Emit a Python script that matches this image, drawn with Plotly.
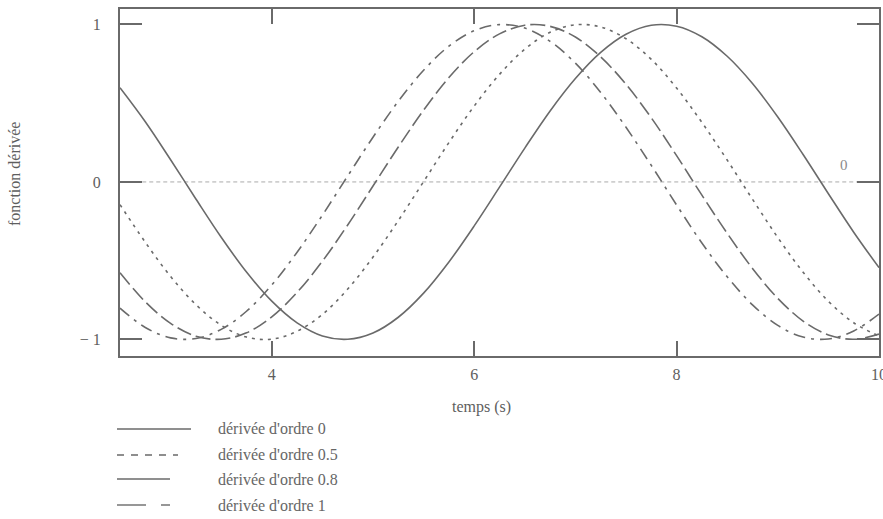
import plotly.graph_objects as go

t = [2.5, 2.75, 3.0, 3.25, 3.5, 3.75, 4.0, 4.25, 4.5, 4.75, 5.0, 5.25, 5.5, 5.75, 6.0, 6.25,
     6.5, 6.75, 7.0, 7.25, 7.5, 7.75, 8.0, 8.25, 8.5, 8.75, 9.0, 9.25, 9.5, 9.75, 10.0]

ordre_0 = [0.598, 0.382, 0.141, -0.108, -0.351, -0.572, -0.757, -0.895, -0.978, -0.999, -0.959,
           -0.859, -0.706, -0.508, -0.279, -0.033, 0.215, 0.451, 0.657, 0.823, 0.938, 0.995,
           0.989, 0.922, 0.798, 0.625, 0.412, 0.174, -0.075, -0.319, -0.544]
ordre_05 = [-0.144, -0.383, -0.600, -0.779, -0.910, -0.985, -0.998, -0.948, -0.841, -0.680, -0.477,
            -0.245, 0.002, 0.250, 0.482, 0.683, 0.843, 0.950, 0.998, 0.984, 0.909, 0.778,
            0.596, 0.378, 0.139, -0.110, -0.353, -0.573, -0.758, -0.894, -0.978]
ordre_08 = [-0.577, -0.761, -0.898, -0.979, -0.999, -0.958, -0.856, -0.701, -0.503, -0.273, -0.026,
            0.222, 0.456, 0.663, 0.827, 0.940, 0.995, 0.988, 0.920, 0.794, 0.620, 0.407,
            0.167, -0.084, -0.326, -0.549, -0.739, -0.883, -0.971, -0.999, -0.966]
ordre_1 = [-0.801, -0.924, -0.990, -0.994, -0.936, -0.821, -0.654, -0.446, -0.211, 0.038, 0.284,
           0.512, 0.709, 0.862, 0.960, 0.999, 0.977, 0.893, 0.754, 0.568, 0.347, 0.105,
           -0.146, -0.388, -0.602, -0.780, -0.911, -0.985, -0.997, -0.946, -0.839]

noms = ["dérivée d'ordre 0", "dérivée d'ordre 0.5", "dérivée d'ordre 0.8", "dérivée d'ordre 1"]
series = [ordre_0, ordre_05, ordre_08, ordre_1]
dashes = ["solid", "3px,5px", "15px,5px", "12px,6px,3px,6px"]
legend_dashes = ["solid", "7px,7px", "solid", "29px,15px,9px"]
legend_len = [74, 61, 53, 53]

x_ticks = [4, 6, 8, 10]
y_ticks = [-1, 0, 1]
y_ticktext = ["\u2212 1", "0", "1"]

col = "#6a6a6a"
txtcol = "#5e5e5e"
font = "Liberation Serif"

W, H = 883, 519
L, R, T, B = 120, 4, 9, 163
pw, ph = W - L - R, H - T - B

def px(xpix):
    return (xpix - L) / pw

def py(ypix):
    return (H - B - ypix) / ph

fig = go.Figure()
for nom, s, d in zip(noms, series, dashes):
    fig.add_trace(go.Scatter(x=t, y=s, mode="lines", name=nom, showlegend=False,
                             line=dict(color=col, width=1.6, dash=d, shape="spline")))

shapes = [dict(type="line", xref="x", yref="y", x0=2.72, x1=9.8, y0=0, y1=0,
               line=dict(color="#aaaaaa", width=1, dash="4px,3px"), layer="below")]
annotations = [
    dict(text="0", xref="x", yref="y", x=9.65, y=0, yshift=17, showarrow=False,
         xanchor="center", yanchor="middle",
         font=dict(family=font, size=15, color="#8a8a8a")),
    dict(text="temps (s)", xref="paper", yref="paper", x=px(481), y=py(407), showarrow=False,
         xanchor="center", yanchor="middle",
         font=dict(family=font, size=16, color=txtcol)),
    dict(text="fonction dérivée", xref="paper", yref="paper", x=px(14), y=py(174), textangle=-90,
         xanchor="center", yanchor="middle",
         showarrow=False, font=dict(family=font, size=16, color=txtcol)),
]
ys = [429, 455, 479, 505]
for nom, d, ln, yy in zip(noms, legend_dashes, legend_len, ys):
    if nom.endswith("1"):
        shapes.append(dict(type="line", xref="paper", yref="paper", x0=px(117), x1=px(146),
                           y0=py(yy), y1=py(yy), line=dict(color=col, width=1.4)))
        shapes.append(dict(type="line", xref="paper", yref="paper", x0=px(161), x1=px(170),
                           y0=py(yy), y1=py(yy), line=dict(color=col, width=1.4)))
    else:
        shapes.append(dict(type="line", xref="paper", yref="paper", x0=px(117), x1=px(117 + ln),
                           y0=py(yy), y1=py(yy), line=dict(color=col, width=1.4, dash=d)))
    annotations.append(dict(text=nom, xref="paper", yref="paper", x=px(216), y=py(yy),
                            xanchor="left", yanchor="middle", showarrow=False,
                            font=dict(family=font, size=16, color="#666666")))

fig.update_layout(
    width=W, height=H, margin=dict(l=L, r=R, t=T, b=B, autoexpand=False),
    plot_bgcolor="white", paper_bgcolor="white",
    shapes=shapes, annotations=annotations, showlegend=False,
    font=dict(family=font, color=txtcol),
)
fig.update_xaxes(range=[2.5, 10], tickvals=x_ticks, ticks="inside", ticklen=15, tickwidth=2,
                 tickcolor=col, showline=True, linecolor=col, linewidth=2, mirror="ticks",
                 showgrid=False, zeroline=False, tickfont=dict(family=font, size=16, color=txtcol),
                 ticklabelstandoff=3, ticklabeloverflow="allow", automargin=False)
fig.update_yaxes(range=[-1.105, 1.098], tickvals=y_ticks, ticktext=y_ticktext, ticks="inside",
                 ticklen=22, tickwidth=2, tickcolor=col, showline=True, linecolor=col, linewidth=2,
                 mirror="ticks", showgrid=False, zeroline=False,
                 tickfont=dict(family=font, size=16, color=txtcol), ticklabelstandoff=14,
                 ticklabeloverflow="allow", automargin=False)

fig.write_html("out.html")
